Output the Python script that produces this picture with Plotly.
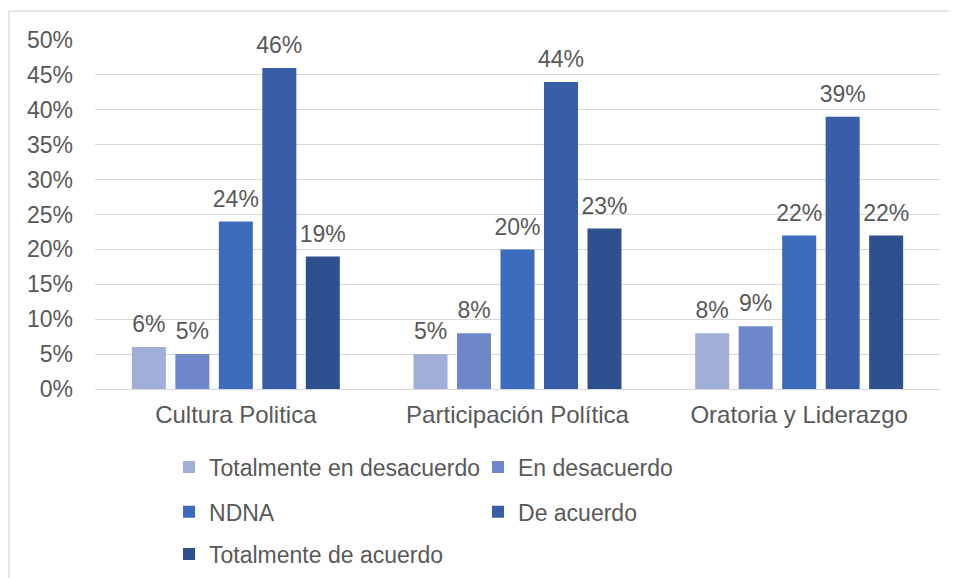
import plotly.graph_objects as go

categories = ["Cultura Politica", "Participación Política", "Oratoria y Liderazgo"]
series_names = ["Totalmente en desacuerdo", "En desacuerdo", "NDNA", "De acuerdo", "Totalmente de acuerdo"]
totalmente_desacuerdo = [0.06, 0.05, 0.08]
en_desacuerdo = [0.05, 0.08, 0.09]
ndna = [0.24, 0.20, 0.22]
de_acuerdo = [0.46, 0.44, 0.39]
totalmente_acuerdo = [0.19, 0.23, 0.22]
series_values = [totalmente_desacuerdo, en_desacuerdo, ndna, de_acuerdo, totalmente_acuerdo]
colors = ["#A0AED8", "#6E87CA", "#3E6CBC", "#385EA8", "#2F508E"]
legend_ids = ["legend", "legend", "legend2", "legend2", "legend3"]

FONT = "Liberation Sans, Arial, sans-serif"
TXT = "#595959"
FS = 23

fig = go.Figure()
for i, (name, vals, col, lg) in enumerate(zip(series_names, series_values, colors, legend_ids)):
    fig.add_trace(go.Bar(
        x=categories, y=vals, name=name, marker=dict(color=col, line=dict(width=0)),
        legend=lg, offsetgroup=str(i), hoverinfo="skip",
    ))
# data labels: grouped scatter text placed above each bar
for i, vals in enumerate(series_values):
    fig.add_trace(go.Scatter(
        x=categories, y=vals, mode="markers+text",
        text=[f"{round(v * 100)}%" for v in vals], textposition="top center",
        textfont=dict(family=FONT, size=FS, color=TXT),
        marker=dict(size=13, color="rgba(0,0,0,0)"),
        offsetgroup=str(i), showlegend=False, hoverinfo="skip", cliponaxis=False,
    ))

legend_common = dict(orientation="h", xanchor="left", yanchor="middle", x=0.0876,
                     entrywidth=264, entrywidthmode="pixels",
                     font=dict(family=FONT, size=23, color=TXT),
                     bgcolor="rgba(0,0,0,0)", borderwidth=0, itemclick=False)

fig.update_layout(
    width=957, height=578,
    margin=dict(l=87, r=25, t=32, b=197, autoexpand=False),
    paper_bgcolor="white", plot_bgcolor="white",
    barmode="group", bargap=0.228, bargroupgap=0.218,
    scattermode="group", scattergap=0.228,
    font=dict(family=FONT, size=FS, color=TXT),
    legend=dict(legend_common, y=-0.2235),
    legend2=dict(legend_common, y=-0.352),
    legend3=dict(legend_common, y=-0.473),
    xaxis=dict(showgrid=False, showline=True, linecolor="#D9D9D9", linewidth=1.3,
               ticks="", ticklabelstandoff=4,
               tickfont=dict(family=FONT, size=24, color=TXT)),
    yaxis=dict(range=[0, 0.5], dtick=0.05, tickformat=".0%", showgrid=True,
               gridcolor="#D9D9D9", gridwidth=1.3, zeroline=False, showline=False,
               ticks="", ticklabelstandoff=21,
               tickfont=dict(family=FONT, size=FS, color=TXT)),
    shapes=[dict(type="rect", xref="paper", yref="paper",
                 x0=-0.1018, x1=1.05, y0=-0.6, y1=1.083,
                 line=dict(color="#D9D9D9", width=1.3), fillcolor="rgba(0,0,0,0)", layer="below")],
)

fig.write_html("out.html")
